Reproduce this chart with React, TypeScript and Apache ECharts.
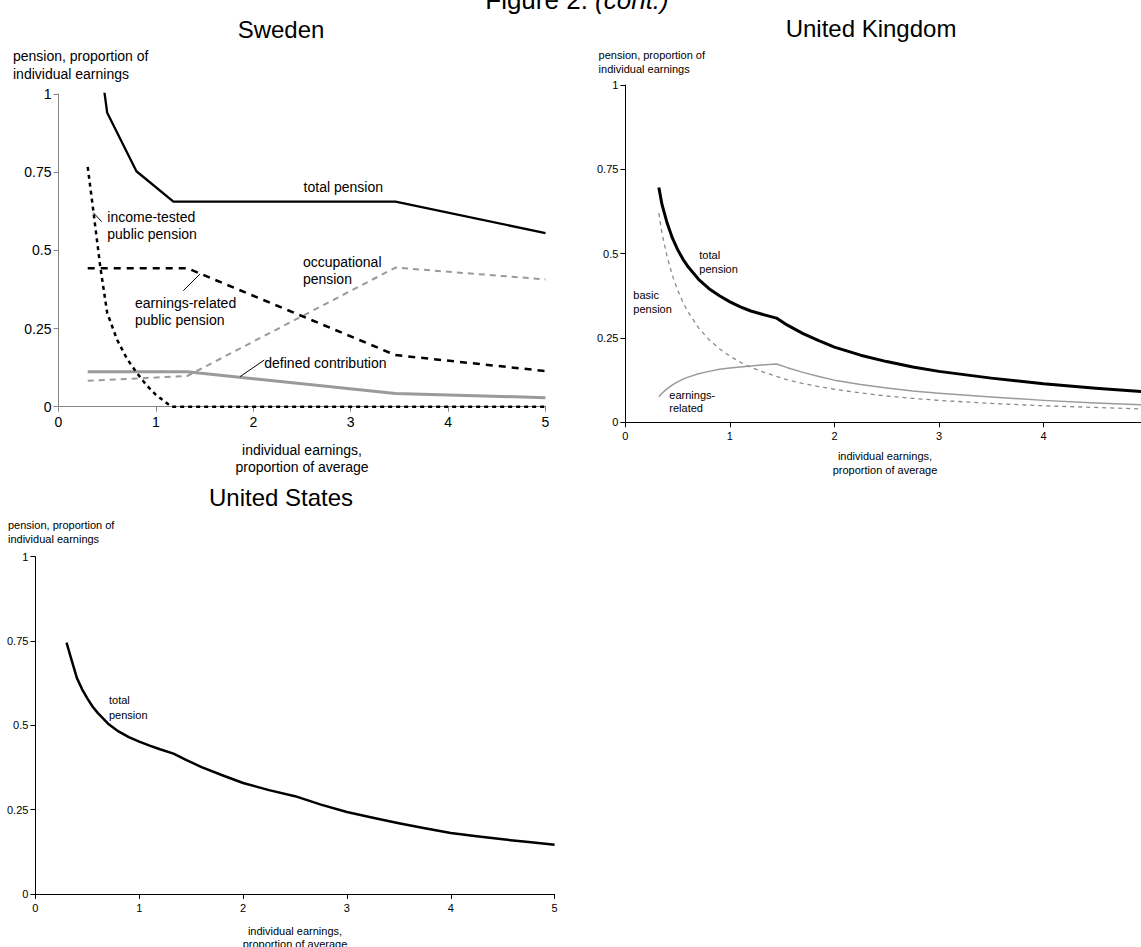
import React, { useEffect, useRef } from "react";
import * as echarts from "echarts";

const FONT = "'Liberation Sans', Arial, Helvetica, sans-serif";

// ---------- Data ----------
const X_MIN = 0;
const X_MAX = 5;
const Y_MIN = 0;
const Y_MAX = 1;

// Sweden
const swedenTotal = [[0.3, 1.4], [0.4, 1.17], [0.5, 0.94], [0.8, 0.753], [1.18, 0.656], [3.46, 0.656], [5, 0.555]];
const swedenIncomeTested = [[0.3, 0.767], [0.36, 0.62], [0.43, 0.445], [0.5, 0.3], [0.6, 0.215], [0.7, 0.155], [0.8, 0.11], [0.9, 0.07], [1.0, 0.038], [1.16, 0], [5, 0]];
const swedenEarningsRelated = [[0.3, 0.443], [1.32, 0.443], [3.46, 0.165], [5, 0.114]];
const swedenOccupational = [[0.3, 0.083], [1.32, 0.098], [3.46, 0.445], [5, 0.407]];
const swedenDefinedContribution = [[0.3, 0.112], [1.32, 0.112], [3.46, 0.042], [5, 0.029]];

// United Kingdom
const ukX = [0.32, 0.35, 0.4, 0.45, 0.5, 0.55, 0.6, 0.7, 0.8, 0.9, 1.0, 1.1, 1.2, 1.3, 1.445, 1.55, 1.7, 1.85, 2.0, 2.25, 2.5, 2.75, 3.0, 3.5, 4.0, 4.5, 5.0];
const ukTotal = [0.696, 0.646, 0.59, 0.546, 0.512, 0.484, 0.461, 0.424, 0.396, 0.375, 0.357, 0.342, 0.33, 0.321, 0.309, 0.288, 0.263, 0.242, 0.223, 0.199, 0.18, 0.164, 0.151, 0.131, 0.114, 0.101, 0.09];
const ukBasic = [0.62, 0.56, 0.49, 0.435, 0.392, 0.356, 0.327, 0.28, 0.245, 0.218, 0.196, 0.178, 0.163, 0.151, 0.136, 0.126, 0.115, 0.106, 0.098, 0.087, 0.078, 0.071, 0.065, 0.056, 0.049, 0.044, 0.039];
const ukEarningsRelated = [0.076, 0.086, 0.1, 0.111, 0.12, 0.128, 0.134, 0.144, 0.151, 0.157, 0.161, 0.164, 0.167, 0.17, 0.173, 0.162, 0.148, 0.136, 0.125, 0.112, 0.102, 0.093, 0.086, 0.075, 0.065, 0.057, 0.051];

// United States
const usX = [0.3, 0.35, 0.4, 0.45, 0.5, 0.55, 0.6, 0.7, 0.8, 0.9, 1.0, 1.1, 1.2, 1.33, 1.45, 1.6, 1.8, 2.0, 2.25, 2.5, 2.75, 3.0, 3.25, 3.5, 3.75, 4.0, 4.25, 4.5, 4.75, 5.0];
const usTotal = [0.745, 0.692, 0.64, 0.607, 0.58, 0.556, 0.537, 0.505, 0.482, 0.465, 0.452, 0.44, 0.429, 0.416, 0.398, 0.376, 0.352, 0.329, 0.308, 0.29, 0.265, 0.243, 0.226, 0.21, 0.195, 0.181, 0.171, 0.162, 0.154, 0.146];

const zip = (xs: number[], ys: number[]) => xs.map((x, i) => [x, ys[i]]);

// ---------- helpers ----------
function xAxisFor(gridIndex: number, color: string, fontSize: number, showMax = true) {
  return {
    type: "value",
    gridIndex,
    min: X_MIN,
    max: X_MAX,
    interval: 1,
    axisLine: { show: true, onZero: false, lineStyle: { color, width: 1 } },
    axisTick: { show: true, length: 5, lineStyle: { color, width: 1 } },
    axisLabel: { show: true, margin: 8, fontSize, fontFamily: FONT, color: "#000", showMaxLabel: showMax },
    splitLine: { show: false },
  };
}
function yAxisFor(gridIndex: number, color: string, fontSize: number) {
  return {
    type: "value",
    gridIndex,
    min: Y_MIN,
    max: Y_MAX,
    interval: 0.25,
    axisLine: { show: true, onZero: false, lineStyle: { color, width: 1 } },
    axisTick: { show: true, length: 5, lineStyle: { color, width: 1 } },
    axisLabel: { show: true, margin: 7, fontSize, fontFamily: FONT, color: "#000" },
    splitLine: { show: false },
  };
}
function line(idx: number, data: number[][], color: string, width: number, type: any, z = 3) {
  return {
    type: "line",
    xAxisIndex: idx,
    yAxisIndex: idx,
    data,
    showSymbol: false,
    symbol: "none",
    clip: true,
    smooth: false,
    z,
    lineStyle: { color, width, type, cap: "butt", join: "round" },
    emphasis: { disabled: true },
  };
}
function txt(text: string, x: number, y: number, size: number, align = "left", extra: any = {}) {
  return {
    type: "text",
    x,
    y,
    silent: true,
    style: {
      text,
      font: `${size}px ${FONT}`,
      fill: "#000",
      align,
      verticalAlign: "middle",
      textAlign: align,
      textVerticalAlign: "middle",
      ...extra,
    },
    z: 10,
  };
}
function seg(x1: number, y1: number, x2: number, y2: number) {
  return {
    type: "line",
    silent: true,
    shape: { x1, y1, x2, y2 },
    style: { stroke: "#000", lineWidth: 1 },
    z: 10,
  };
}

export default function App() {
  const ref = useRef<HTMLDivElement>(null);
  useEffect(() => {
    document.body.style.margin = "0";
    const chart = echarts.init(ref.current!, null, { renderer: "svg" });
    const GRAY_AX = "#868686";
    const option: any = {
      animation: false,
      backgroundColor: "#fff",
      grid: [
        { left: 58.5, top: 94, width: 487, height: 312.7, outerBoundsMode: "none", containLabel: false },
        { left: 625.4, top: 85, width: 522.6, height: 337.3, outerBoundsMode: "none", containLabel: false },
        { left: 35.4, top: 556.7, width: 519.2, height: 337.3, outerBoundsMode: "none", containLabel: false },
      ],
      xAxis: [xAxisFor(0, GRAY_AX, 14), xAxisFor(1, "#000", 11, false), xAxisFor(2, "#000", 11)],
      yAxis: [yAxisFor(0, GRAY_AX, 14), yAxisFor(1, "#000", 11), yAxisFor(2, "#000", 11)],
      series: [
        line(0, swedenDefinedContribution, "#9a9a9a", 3, "solid", 2),
        line(0, swedenOccupational, "#9a9a9a", 2, [6, 5], 2),
        line(0, swedenEarningsRelated, "#000", 2.5, [7, 6], 3),
        line(0, swedenIncomeTested, "#000", 2.5, [4, 4], 3),
        line(0, swedenTotal, "#000", 2.3, "solid", 4),
        line(1, zip(ukX, ukEarningsRelated), "#9a9a9a", 1.5, "solid", 2),
        line(1, zip(ukX, ukBasic), "#8a8a8a", 1.3, [4, 4], 2),
        line(1, zip(ukX, ukTotal), "#000", 3, "solid", 4),
        line(2, zip(usX, usTotal), "#000", 2.5, "solid", 4),
      ],
      graphic: [
        // page title
        {
          type: "text",
          x: 577,
          y: 13,
          silent: true,
          style: {
            text: "{a|Figure 2. }{b|(cont.)}",
            align: "center",
            textAlign: "center",
            verticalAlign: "bottom",
            textVerticalAlign: "bottom",
            rich: {
              a: { fontSize: 26, fontFamily: FONT, fill: "#000", color: "#000" },
              b: { fontSize: 26, fontFamily: FONT, fontStyle: "italic", fill: "#000", color: "#000" },
            },
          },
        },
        txt("Sweden", 281, 29, 24, "center"),
        txt("United Kingdom", 871, 28, 24, "center"),
        txt("United States", 281, 497, 24, "center"),

        // Sweden axis names
        txt("pension, proportion of", 13, 56, 14),
        txt("individual earnings", 13, 74, 14),
        txt("individual earnings,", 302, 450, 14, "center"),
        txt("proportion of average", 302, 467, 14, "center"),
        // Sweden labels
        txt("total pension", 303.6, 187.3, 14),
        txt("income-tested", 107.3, 216.7, 14),
        txt("public pension", 107.3, 234, 14),
        txt("occupational", 302.9, 261.7, 14),
        txt("pension", 302.9, 278.7, 14),
        txt("earnings-related", 135, 303.3, 14),
        txt("public pension", 135, 320, 14),
        txt("defined contribution", 264.3, 363.3, 14),
        seg(93.3, 212.7, 101.7, 221.7),
        seg(183.3, 290.7, 200, 274),
        seg(240, 376.7, 264.3, 360),

        // UK axis names
        txt("pension, proportion of", 598.6, 55, 11),
        txt("individual earnings", 598.6, 68.5, 11),
        txt("individual earnings,", 885, 456, 11, "center"),
        txt("proportion of average", 885, 469.5, 11, "center"),
        // UK labels
        txt("total", 699.3, 255, 11),
        txt("pension", 699.3, 269.3, 11),
        txt("basic", 633.3, 295, 11),
        txt("pension", 633.3, 309.3, 11),
        txt("earnings-", 669.3, 395, 11),
        txt("related", 669.3, 408.3, 11),

        // US axis names
        txt("pension, proportion of", 8, 525, 11),
        txt("individual earnings", 8, 539.3, 11),
        txt("individual earnings,", 295, 931, 11, "center"),
        txt("proportion of average", 295, 944, 11, "center"),
        // US labels
        txt("total", 109, 700, 11),
        txt("pension", 109, 715, 11),
      ],
    };
    chart.setOption(option);
    return () => chart.dispose();
  }, []);
  return (
    <div style={{ position: "absolute", left: 0, top: 0, width: 1141, height: 947, background: "#fff" }}>
      <div ref={ref} style={{ width: 1141, height: 947 }} />
    </div>
  );
}
